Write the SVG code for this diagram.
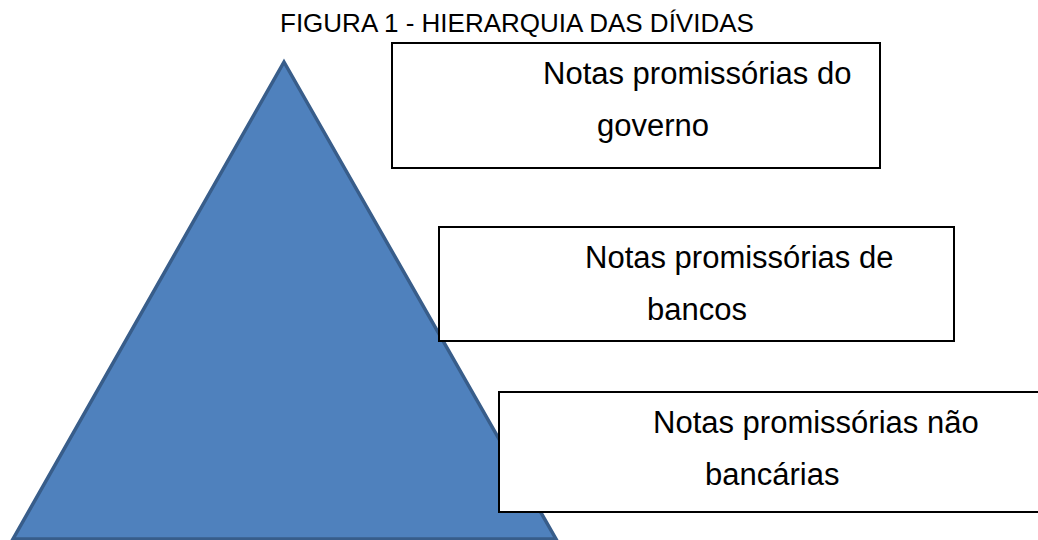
<svg xmlns="http://www.w3.org/2000/svg" width="1038" height="540" viewBox="0 0 1038 540">
<style>
.t{font-family:"Liberation Sans",Arial,sans-serif;fill:#000}
.bx{fill:#fff;stroke:#000;stroke-width:2}
.title{font-size:26px}
.lbl{font-size:31px}
</style>
<rect width="1038" height="540" fill="#fff"/>
<text class="t title" x="280" y="32">FIGURA 1 - HIERARQUIA DAS DÍVIDAS</text>
<g id="pyramid">
<polygon points="284,62 556,539 13,539" fill="#4F81BD" stroke="#385D8A" stroke-width="3.5" stroke-linejoin="miter"/>
</g>
<g id="connectors"></g>
<g id="box-governo">
<rect class="bx" x="392" y="43" width="488" height="125"/>
<text class="t lbl" x="543" y="84">Notas promissórias do</text>
<text class="t lbl" x="597" y="136">governo</text>
</g>
<g id="box-bancos">
<rect class="bx" x="439" y="227" width="515" height="114"/>
<text class="t lbl" x="585" y="268">Notas promissórias de</text>
<text class="t lbl" x="647" y="320">bancos</text>
</g>
<g id="box-nao-bancarias">
<rect class="bx" x="499" y="392" width="560" height="120"/>
<text class="t lbl" x="653" y="433">Notas promissórias não</text>
<text class="t lbl" x="705" y="485">bancárias</text>
</g>
</svg>
